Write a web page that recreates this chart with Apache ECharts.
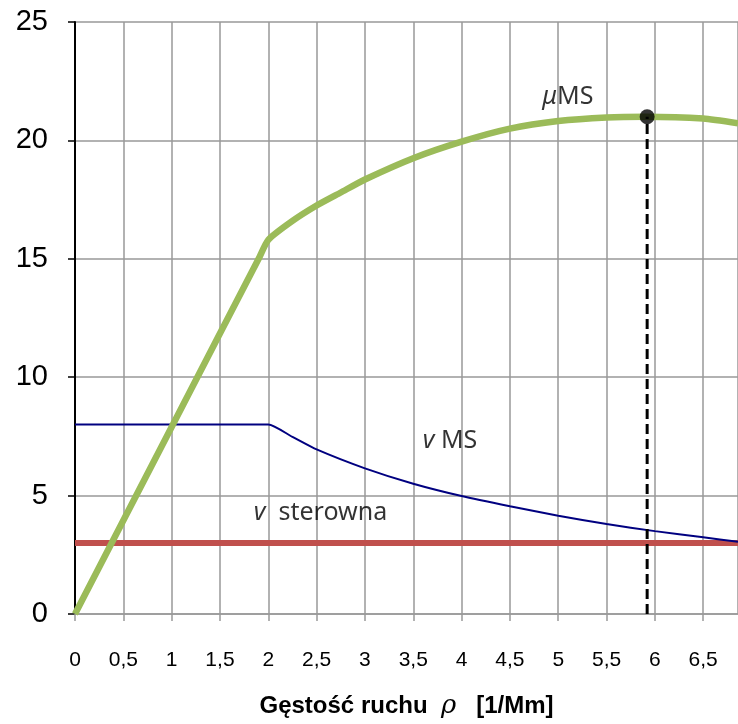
<!DOCTYPE html>
<html>
<head>
<meta charset="utf-8">
<script src="https://cdn.jsdelivr.net/npm/echarts@6/dist/echarts.min.js"></script>
<style>
  html, body { margin: 0; padding: 0; background: #fff; }
  #main { width: 738px; height: 724px; }
</style>
</head>
<body>
<div id="main"></div>
<script>
// gęstość ruchu (oś X) dla krzywych
var rhoGreen = [0, 1, 1.9, 2, 2.25, 2.5, 2.75, 3, 3.5, 4, 4.5, 5, 5.5, 5.9, 6.5, 6.86];
var muMS     = [0, 7.9, 15.0, 15.8, 16.6, 17.25, 17.8, 18.35, 19.25, 19.95, 20.5, 20.82, 20.97, 21.0, 20.92, 20.72];

var rhoBlue  = [0, 1, 1.9, 2, 2.25, 2.5, 3, 3.5, 4, 4.5, 5, 5.5, 6, 6.5, 6.86];
var vMS      = [8, 8, 8, 8, 7.48, 6.95, 6.15, 5.5, 4.98, 4.55, 4.15, 3.8, 3.5, 3.24, 3.05];

var rhoRed   = [0, 6.86];
var vSter    = [3, 3];

// punkt maksimum przepływu
var maxRho = 5.92, maxMu = 21.0;

// opisy krzywych
var noteText = ['{i|μ}{n|MS}', '{i|v}{n| MS}', '{i|v}{n|  sterowna}'];
var noteRho  = [5.1, 3.88, 2.54];
var noteVal  = [21.85, 7.3, 4.25];

var xTicks = { min: 0, max: 6.86, step: 0.5 };
var yTicks = { min: 0, max: 25, step: 5 };

function pairs(xs, ys) {
    var out = [];
    for (var i = 0; i < xs.length; i++) out.push([xs[i], ys[i]]);
    return out;
}

var notes = [];
for (var k = 0; k < noteText.length; k++) {
    notes.push({ value: [noteRho[k], noteVal[k]], txt: noteText[k] });
}

var chart = echarts.init(document.getElementById('main'));
var gridColor = '#999999';

chart.setOption({
    animation: false,
    backgroundColor: '#ffffff',
    grid: { left: 75, right: 0, top: 22, bottom: 108, containLabel: false },
    xAxis: {
        type: 'value',
        min: xTicks.min, max: xTicks.max, interval: xTicks.step,
        axisLine: { show: true, onZero: false, lineStyle: { color: gridColor, width: 1.5 } },
        axisTick: { show: true, length: 7, lineStyle: { color: gridColor, width: 1.5 } },
        splitLine: { show: true, lineStyle: { color: gridColor, width: 1.5 } },
        axisLabel: {
            showMaxLabel: false,
            margin: 36,
            fontFamily: 'Liberation Sans', fontSize: 21, color: '#000',
            formatter: function (v) { return String(v).replace('.', ','); }
        },
        name: '{b|Gęstość ruchu  }{r|ρ}{b|   [1/Mm]}',
        nameLocation: 'middle',
        nameGap: 79,
        nameTextStyle: {
            rich: {
                b: { fontFamily: 'Liberation Sans', fontWeight: 'bold', fontSize: 24, color: '#000' },
                r: { fontFamily: 'DejaVu Serif', fontStyle: 'italic', fontSize: 26, color: '#000' }
            }
        }
    },
    yAxis: {
        type: 'value',
        min: yTicks.min, max: yTicks.max, interval: yTicks.step,
        axisLine: { show: true, onZero: false, lineStyle: { color: '#000', width: 2 } },
        axisTick: { show: true, length: 7, lineStyle: { color: '#000', width: 1.5 } },
        splitLine: { show: true, lineStyle: { color: gridColor, width: 1.5 } },
        axisLabel: { margin: 27, fontFamily: 'Liberation Sans', fontSize: 29, color: '#000' }
    },
    series: [
        {
            name: 'v sterowna', type: 'line', data: pairs(rhoRed, vSter),
            showSymbol: false, symbol: 'none',
            lineStyle: { color: '#C0504D', width: 6 }, z: 3
        },
        {
            name: 'v MS', type: 'line', data: pairs(rhoBlue, vMS),
            smooth: 0.2, showSymbol: false, symbol: 'none',
            lineStyle: { color: '#000080', width: 2 }, z: 4
        },
        {
            name: 'μMS', type: 'line', data: pairs(rhoGreen, muMS),
            smooth: 0.2, showSymbol: false, symbol: 'none',
            lineStyle: { color: '#9BBB59', width: 6.5 }, z: 5
        },
        {
            name: 'max', type: 'line', data: [[maxRho, 0], [maxRho, maxMu]],
            showSymbol: false, symbol: 'none',
            lineStyle: { color: '#000', width: 3, type: [10, 5] }, z: 6
        },
        {
            name: 'punkt', type: 'scatter', data: [[maxRho, maxMu]],
            symbolSize: 15, itemStyle: { color: '#000' }, z: 7
        },
        {
            name: 'opisy', type: 'scatter', data: notes,
            symbolSize: 0, z: 8, silent: true,
            label: {
                show: true, position: 'inside',
                formatter: function (p) { return p.data.txt; },
                rich: {
                    i: { fontFamily: 'Noto Sans', fontStyle: 'italic', fontSize: 25, color: '#000' },
                    n: { fontFamily: 'Noto Sans', fontSize: 25, color: '#000' }
                }
            }
        }
    ]
});
</script>
</body>
</html>
